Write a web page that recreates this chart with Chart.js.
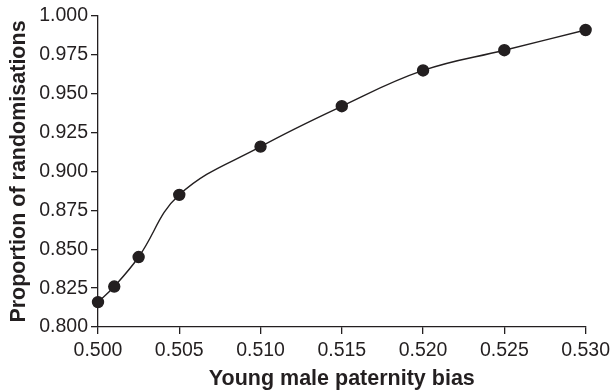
<!DOCTYPE html>
<html>
<head>
<meta charset="utf-8">
<script src="https://cdn.jsdelivr.net/npm/chart.js@4/dist/chart.umd.min.js"></script>
<style>
html,body{margin:0;padding:0;background:#fff;}
#wrap{width:615px;height:392px;position:relative;}
</style>
</head>
<body>
<div id="wrap"><canvas id="c" width="615" height="392"></canvas></div>
<script>
const biasValues = [0.500, 0.501, 0.5025, 0.505, 0.510, 0.515, 0.520, 0.525, 0.530];
const proportionValues = [0.816, 0.826, 0.845, 0.885, 0.916, 0.942, 0.965, 0.978, 0.991];
const xTitle = 'Young male paternity bias';
const yTitle = 'Proportion of randomisations';

const ink = '#231f20';
const fam = '"Liberation Sans", Arial, Helvetica, sans-serif';

const points = biasValues.map((x, i) => ({x: x, y: proportionValues[i]}));

new Chart(document.getElementById('c'), {
  type: 'line',
  data: {
    datasets: [{
      data: points,
      borderColor: ink,
      borderWidth: 1.4,
      backgroundColor: ink,
      pointBackgroundColor: ink,
      pointBorderColor: ink,
      pointRadius: 5.5,
      tension: 0.4,
      fill: false,
      clip: false
    }]
  },
  options: {
    responsive: false,
    animation: false,
    events: [],
    plugins: {legend: {display: false}, tooltip: {enabled: false}},
    layout: {padding: {left: 0, right: 27, top: 16, bottom: 0}},
    scales: {
      x: {
        type: 'linear',
        min: 0.5, max: 0.53,
        ticks: {stepSize: 0.005, color: ink, font: {family: fam, size: 19.5}, padding: 5,
          callback: v => Number(v).toFixed(3)},
        grid: {drawOnChartArea: false, drawTicks: true, tickLength: 7, color: ink, lineWidth: 1.3},
        border: {color: ink, width: 1.3},
        title: {display: true, text: xTitle, color: ink, font: {family: fam, size: 21.5, weight: 'bold'}, padding: {top: 0, bottom: 0}},
        afterFit: s => { s.height = 392 - 327; }
      },
      y: {
        type: 'linear',
        min: 0.8, max: 1.0,
        ticks: {stepSize: 0.025, color: ink, font: {family: fam, size: 19.5}, padding: 3,
          callback: v => Number(v).toFixed(3)},
        grid: {drawOnChartArea: false, drawTicks: true, tickLength: 7, color: ink, lineWidth: 1.3},
        border: {color: ink, width: 1.3},
        title: {display: true, text: yTitle, color: ink, font: {family: fam, size: 21.5, weight: 'bold'}, padding: {top: 6, bottom: 0}},
        afterFit: s => { s.width = 98; }
      }
    }
  }
});
</script>
</body>
</html>
